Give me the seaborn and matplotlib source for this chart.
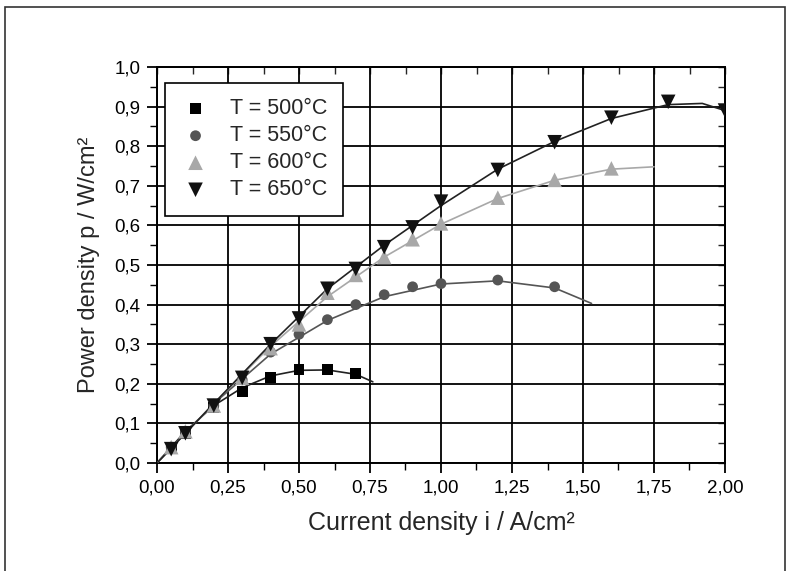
import pandas as pd
import matplotlib.pyplot as plt
from matplotlib.patches import Rectangle
from matplotlib.ticker import FixedLocator, FixedFormatter, MultipleLocator, NullFormatter
import seaborn as sns

i_500 = [0.05, 0.10, 0.20, 0.30, 0.40, 0.50, 0.60, 0.70]
p_500 = [0.040, 0.075, 0.140, 0.180, 0.215, 0.236, 0.236, 0.226]

i_550 = [0.05, 0.10, 0.20, 0.30, 0.40, 0.50, 0.60, 0.70, 0.80, 0.90, 1.00, 1.20, 1.40]
p_550 = [0.040, 0.080, 0.145, 0.210, 0.280, 0.325, 0.362, 0.400, 0.425, 0.445, 0.453, 0.462, 0.445]

i_600 = [0.05, 0.10, 0.20, 0.30, 0.40, 0.50, 0.60, 0.70, 0.80, 0.90, 1.00, 1.20, 1.40, 1.60]
p_600 = [0.040, 0.080, 0.145, 0.215, 0.290, 0.350, 0.430, 0.475, 0.520, 0.565, 0.605, 0.670, 0.715, 0.744]

i_650 = [0.05, 0.10, 0.20, 0.30, 0.40, 0.50, 0.60, 0.70, 0.80, 0.90, 1.00, 1.20, 1.40, 1.60, 1.80, 2.00]
p_650 = [0.035, 0.075, 0.145, 0.215, 0.300, 0.365, 0.440, 0.490, 0.545, 0.595, 0.660, 0.740, 0.810, 0.872, 0.912, 0.890]

# Fitted curves
fit_i_500 = [0.0, 0.10, 0.20, 0.30, 0.40, 0.50, 0.60, 0.70, 0.76]
fit_p_500 = [0.0, 0.080, 0.145, 0.190, 0.220, 0.234, 0.235, 0.224, 0.205]

fit_i_550 = [0.0, 0.20, 0.40, 0.60, 0.80, 1.00, 1.20, 1.40, 1.53]
fit_p_550 = [0.0, 0.150, 0.275, 0.360, 0.420, 0.452, 0.460, 0.442, 0.403]

fit_i_600 = [0.0, 0.20, 0.40, 0.60, 0.80, 1.00, 1.20, 1.40, 1.60, 1.75]
fit_p_600 = [0.0, 0.150, 0.295, 0.420, 0.520, 0.603, 0.668, 0.714, 0.742, 0.748]

fit_i_650 = [0.0, 0.20, 0.40, 0.60, 0.80, 1.00, 1.20, 1.40, 1.60, 1.80, 1.92, 2.00]
fit_p_650 = [0.0, 0.150, 0.300, 0.440, 0.550, 0.650, 0.742, 0.812, 0.870, 0.905, 0.908, 0.890]

labels = ["T = 500°C", "T = 550°C", "T = 600°C", "T = 650°C"]
colors = ["#000000", "#555555", "#a8a8a8", "#111111"]
line_colors = ["#222222", "#555555", "#a8a8a8", "#222222"]
markers = ["s", "o", "^", "v"]
marker_sizes = [60, 60, 110, 110]

x_ticks = [0.0, 0.25, 0.5, 0.75, 1.0, 1.25, 1.5, 1.75, 2.0]
x_tick_labels = ["0,00", "0,25", "0,50", "0,75", "1,00", "1,25", "1,50", "1,75", "2,00"]
y_ticks = [0.0, 0.1, 0.2, 0.3, 0.4, 0.5, 0.6, 0.7, 0.8, 0.9, 1.0]
y_tick_labels = ["0,0", "0,1", "0,2", "0,3", "0,4", "0,5", "0,6", "0,7", "0,8", "0,9", "1,0"]

series = [(i_500, p_500), (i_550, p_550), (i_600, p_600), (i_650, p_650)]
fit_series = [(fit_i_500, fit_p_500), (fit_i_550, fit_p_550),
              (fit_i_600, fit_p_600), (fit_i_650, fit_p_650)]

sns.set_style("ticks")
plt.rcParams["font.family"] = ["Liberation Sans", "DejaVu Sans"]

fig = plt.figure(figsize=(7.92, 5.71), dpi=100)
ax = fig.add_axes([157 / 792, 1 - 463 / 571, 568 / 792, 396 / 571])

# outer frame around the picture
fig.patches.append(Rectangle((5 / 792, -0.05), 780 / 792, 1.05 - 7 / 571,
                             transform=fig.transFigure, fill=False,
                             edgecolor="#333333", linewidth=1.2))

for (fi, fp), lc in zip(fit_series, line_colors):
    sns.lineplot(x=fi, y=fp, color=lc, sort=False, linewidth=1.2, ax=ax, zorder=3)

for (xi, yp), lab, c, m, s in zip(series, labels, colors, markers, marker_sizes):
    sns.scatterplot(x=xi, y=yp, color=c, marker=m, s=s, edgecolor="none",
                    ax=ax, zorder=4, label=lab)

ax.set_xlim(0, 2.0)
ax.set_ylim(0, 1.0)
ax.xaxis.set_major_locator(FixedLocator(x_ticks))
ax.xaxis.set_major_formatter(FixedFormatter(x_tick_labels))
ax.yaxis.set_major_locator(FixedLocator(y_ticks))
ax.yaxis.set_major_formatter(FixedFormatter(y_tick_labels))
ax.xaxis.set_minor_locator(MultipleLocator(0.125))
ax.yaxis.set_minor_locator(MultipleLocator(0.05))
ax.grid(True, which="major", color="black", linewidth=1.3)
ax.tick_params(which="both", direction="out", colors="black")
ax.tick_params(which="major", length=7, width=1.3, labelsize=13.5, pad=5)
ax.tick_params(which="minor", length=5, width=1.0)
for sp in ax.spines.values():
    sp.set_linewidth(1.4)
    sp.set_color("black")

# inward ticks on top and right
top = ax.secondary_xaxis("top")
top.xaxis.set_major_locator(FixedLocator(x_ticks))
top.xaxis.set_minor_locator(MultipleLocator(0.125))
top.xaxis.set_major_formatter(NullFormatter())
top.tick_params(which="both", direction="in", length=5, width=1.0)
top.spines["top"].set_linewidth(1.4)
right = ax.secondary_yaxis("right")
right.yaxis.set_major_locator(FixedLocator(y_ticks))
right.yaxis.set_minor_locator(MultipleLocator(0.05))
right.yaxis.set_major_formatter(NullFormatter())
right.tick_params(which="both", direction="in", length=5, width=1.0)
right.spines["right"].set_linewidth(1.4)

ax.set_xlabel("Current density i / A/cm²", fontsize=18, labelpad=10)
ax.set_ylabel("Power density p / W/cm²", fontsize=17, labelpad=10)

h, _ = ax.get_legend_handles_labels()
leg = ax.legend(h, labels, loc="upper left", bbox_to_anchor=(0.014, 0.96),
                borderaxespad=0, fancybox=False, framealpha=1, edgecolor="black",
                handletextpad=0.9, borderpad=0.72, labelspacing=0.28, handlelength=1.4,
                prop={"size": 15.5})
leg.get_frame().set_linewidth(1.2)
leg.set_zorder(10)

fig.savefig("out.png", dpi=100)
